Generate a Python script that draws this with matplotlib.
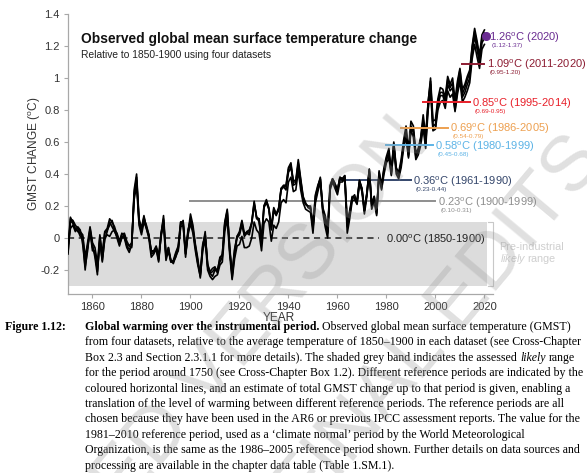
import matplotlib
matplotlib.use("Agg")
import matplotlib.pyplot as plt
import numpy as np

# ---------------------------------
# Data
# ---------------------------------
years = np.arange(1850, 2021)

hadcrut5 = [
    -0.09, 0.10, 0.10, 0.06, 0.04, 0.03, 0.01, -0.14, -0.06, 0.05,
    -0.06, -0.10, -0.20, -0.01, -0.15, 0.00, 0.02, 0.01, 0.04, 0.05,
    0.00, -0.05, 0.01, 0.00, -0.06, -0.09, -0.04, 0.27, 0.36, 0.10,
    0.04, 0.12, 0.08, 0.02, -0.08, -0.08, -0.05, -0.11, 0.03, 0.12,
    -0.12, -0.06, -0.15, -0.14, -0.09, -0.05, 0.10, 0.10, -0.08, 0.05,
    0.11, 0.05, -0.06, -0.16, -0.22, -0.04, 0.02, -0.17, -0.21, -0.19,
    -0.18, -0.22, -0.12, -0.11, 0.10, 0.18, -0.08, -0.22, -0.07, 0.01,
    0.03, 0.10, 0.01, 0.03, 0.02, 0.09, 0.23, 0.12, 0.12, -0.03,
    0.19, 0.22, 0.18, 0.05, 0.17, 0.14, 0.18, 0.31, 0.32, 0.32,
    0.43, 0.46, 0.33, 0.34, 0.46, 0.34, 0.24, 0.21, 0.20, 0.20,
    0.08, 0.27, 0.33, 0.37, 0.19, 0.14, 0.06, 0.33, 0.37, 0.34,
    0.29, 0.38, 0.37, 0.39, 0.10, 0.17, 0.26, 0.25, 0.23, 0.36,
    0.30, 0.17, 0.28, 0.42, 0.21, 0.26, 0.15, 0.40, 0.31, 0.42,
    0.49, 0.52, 0.40, 0.58, 0.42, 0.39, 0.46, 0.58, 0.66, 0.51,
    0.69, 0.66, 0.51, 0.54, 0.61, 0.72, 0.58, 0.83, 0.96, 0.68,
    0.69, 0.83, 0.89, 0.89, 0.84, 0.96, 0.92, 0.94, 0.80, 0.93,
    1.02, 0.88, 0.91, 0.96, 1.00, 1.16, 1.26, 1.18, 1.09, 1.22, 1.25,
]
berkeley = [
    -0.05, 0.06, 0.08, 0.04, 0.07, 0.05, -0.04, -0.18, -0.08, 0.06,
    -0.04, -0.12, -0.23, 0.02, -0.12, 0.03, 0.05, 0.08, 0.11, 0.05,
    0.03, -0.02, 0.03, 0.01, -0.04, -0.05, -0.06, 0.30, 0.40, 0.12,
    0.06, 0.14, 0.06, 0.00, -0.12, -0.10, -0.07, -0.15, 0.02, 0.14,
    -0.10, -0.08, -0.14, -0.16, -0.11, -0.08, 0.08, 0.11, -0.10, 0.03,
    0.15, 0.08, -0.04, -0.13, -0.25, -0.06, 0.04, -0.18, -0.22, -0.24,
    -0.20, -0.21, -0.15, -0.12, 0.08, 0.16, -0.05, -0.25, -0.10, 0.00,
    0.02, 0.08, 0.02, 0.04, 0.05, 0.09, 0.21, 0.13, 0.10, -0.02,
    0.20, 0.23, 0.19, 0.07, 0.19, 0.15, 0.19, 0.30, 0.32, 0.30,
    0.41, 0.44, 0.36, 0.36, 0.49, 0.37, 0.26, 0.22, 0.19, 0.18,
    0.06, 0.24, 0.31, 0.37, 0.18, 0.12, 0.04, 0.32, 0.36, 0.33,
    0.30, 0.37, 0.36, 0.38, 0.07, 0.14, 0.25, 0.27, 0.22, 0.35,
    0.31, 0.18, 0.27, 0.43, 0.19, 0.24, 0.17, 0.42, 0.33, 0.44,
    0.51, 0.56, 0.42, 0.60, 0.44, 0.41, 0.49, 0.61, 0.70, 0.55,
    0.73, 0.70, 0.53, 0.56, 0.63, 0.77, 0.64, 0.84, 1.00, 0.73,
    0.74, 0.87, 0.94, 0.93, 0.88, 1.01, 0.96, 1.00, 0.86, 0.98,
    1.06, 0.93, 0.96, 1.01, 1.05, 1.20, 1.31, 1.23, 1.14, 1.27, 1.30,
]
noaa = [
    -0.10, 0.12, 0.11, 0.08, 0.06, 0.04, 0.02, -0.12, -0.03, 0.07,
    -0.03, -0.06, -0.16, 0.01, -0.10, 0.04, 0.06, 0.12, 0.10, 0.07,
    0.02, -0.02, 0.02, 0.03, -0.02, -0.05, -0.03, 0.24, 0.33, 0.08,
    0.02, 0.10, 0.06, 0.01, -0.08, -0.09, -0.06, -0.13, 0.01, 0.09,
    -0.14, -0.08, -0.15, -0.15, -0.12, -0.07, 0.07, 0.08, -0.10, 0.02,
    0.09, 0.03, -0.08, -0.17, -0.24, -0.08, -0.01, -0.20, -0.24, -0.26,
    -0.24, -0.23, -0.17, -0.15, 0.04, 0.12, -0.10, -0.26, -0.13, -0.05,
    -0.04, 0.01, -0.06, -0.06, -0.05, 0.00, 0.10, 0.05, 0.03, -0.08,
    0.09, 0.12, 0.10, -0.02, 0.08, 0.06, 0.10, 0.22, 0.24, 0.22,
    0.35, 0.38, 0.29, 0.30, 0.42, 0.30, 0.22, 0.18, 0.17, 0.16,
    0.03, 0.22, 0.29, 0.35, 0.16, 0.07, 0.00, 0.30, 0.35, 0.31,
    0.27, 0.35, 0.35, 0.37, 0.03, 0.12, 0.23, 0.24, 0.21, 0.34,
    0.29, 0.15, 0.26, 0.41, 0.18, 0.23, 0.14, 0.39, 0.30, 0.40,
    0.47, 0.50, 0.39, 0.56, 0.40, 0.37, 0.44, 0.56, 0.63, 0.50,
    0.67, 0.63, 0.49, 0.52, 0.58, 0.69, 0.56, 0.80, 0.92, 0.67,
    0.68, 0.80, 0.85, 0.86, 0.81, 0.92, 0.88, 0.90, 0.79, 0.90,
    0.98, 0.85, 0.88, 0.92, 0.97, 1.12, 1.21, 1.13, 1.06, 1.18, 1.21,
]
kadow = [
    -0.06, 0.13, 0.09, 0.05, 0.05, 0.01, 0.00, -0.20, -0.05, 0.04,
    -0.08, -0.08, -0.21, -0.02, -0.14, -0.01, 0.04, 0.10, 0.07, 0.04,
    0.01, -0.04, 0.00, 0.02, -0.05, -0.07, -0.05, 0.27, 0.38, 0.11,
    0.05, 0.13, 0.07, 0.02, -0.10, -0.09, -0.06, -0.14, 0.02, 0.11,
    -0.11, -0.06, -0.14, -0.15, -0.10, -0.06, 0.10, 0.09, -0.12, 0.04,
    0.12, 0.06, -0.05, -0.15, -0.23, -0.05, 0.02, -0.16, -0.22, -0.21,
    -0.19, -0.20, -0.13, -0.10, 0.09, 0.17, -0.07, -0.23, -0.08, 0.01,
    0.04, 0.11, 0.03, 0.03, 0.04, 0.10, 0.22, 0.13, 0.12, -0.01,
    0.20, 0.24, 0.18, 0.06, 0.18, 0.15, 0.17, 0.31, 0.33, 0.33,
    0.44, 0.47, 0.35, 0.35, 0.47, 0.36, 0.25, 0.21, 0.20, 0.19,
    0.07, 0.26, 0.32, 0.38, 0.18, 0.12, 0.03, 0.32, 0.37, 0.34,
    0.30, 0.38, 0.37, 0.39, 0.08, 0.16, 0.25, 0.25, 0.23, 0.36,
    0.31, 0.17, 0.28, 0.43, 0.21, 0.26, 0.16, 0.41, 0.32, 0.43,
    0.50, 0.53, 0.41, 0.59, 0.43, 0.40, 0.47, 0.59, 0.67, 0.52,
    0.70, 0.67, 0.52, 0.55, 0.62, 0.74, 0.60, 0.85, 0.98, 0.70,
    0.71, 0.85, 0.91, 0.91, 0.86, 0.99, 0.94, 0.97, 0.82, 0.96,
    1.05, 0.90, 0.94, 0.99, 1.03, 1.19, 1.29, 1.21, 1.12, 1.25, 1.28,
]

# reference periods (coloured horizontal lines)
ref_periods = ["1850-1900", "1900-1999", "1961-1990", "1980-1999", "1986-2005", "1995-2014", "2011-2020"]
ref_start = [1850, 1900, 1961, 1980, 1986, 1995, 2011]
ref_end = [1977, 2000, 1990, 1999, 2005, 2014, 2020]
ref_values = [0.00, 0.23, 0.36, 0.58, 0.69, 0.85, 1.09]
ref_ranges = ["", "(0.10-0.31)", "(0.23-0.44)", "(0.45-0.68)", "(0.54-0.79)", "(0.69-0.95)", "(0.95-1.20)"]
ref_colors = ["#222222", "#8e8e8e", "#34466b", "#5cb3e6", "#eda050", "#e8202a", "#8c1c32"]

latest_year = 2020
latest_value = 1.26
latest_range = "(1.12-1.37)"
latest_color = "#6a2c91"

likely_low, likely_high = -0.3, 0.1

caption = [
    [("Figure 1.12:", "bold", "normal"), ("Global warming over the instrumental period.", "bold", "normal"),
     ("Observed global mean surface temperature (GMST)", "normal", "normal")],
    [("from four datasets, relative to the average temperature of 1850\u20131900 in each dataset (see Cross-Chapter", "normal", "normal")],
    [("Box 2.3 and Section 2.3.1.1 for more details). The shaded grey band indicates the assessed", "normal", "normal"),
     ("likely", "normal", "italic"), ("range", "normal", "normal")],
    [("for the period around 1750 (see Cross-Chapter Box 1.2). Different reference periods are indicated by the", "normal", "normal")],
    [("coloured horizontal lines, and an estimate of total GMST change up to that period is given, enabling a", "normal", "normal")],
    [("translation of the level of warming between different reference periods. The reference periods are all", "normal", "normal")],
    [("chosen because they have been used in the AR6 or previous IPCC assessment reports. The value for the", "normal", "normal")],
    [("1981\u20132010 reference period, used as a \u2018climate normal\u2019 period by the World Meteorological", "normal", "normal")],
    [("Organization, is the same as the 1986\u20132005 reference period shown. Further details on data sources and", "normal", "normal")],
    [("processing are available in the chapter data table (Table 1.SM.1).", "normal", "normal")],
]

# ---------------------------------
# Figure
# ---------------------------------
plt.rcParams["font.family"] = "Liberation Sans"
plt.rcParams["mathtext.fontset"] = "custom"
plt.rcParams["mathtext.rm"] = "Liberation Sans"
plt.rcParams["mathtext.it"] = "Liberation Sans:italic"

W, H = 587, 473
fig = plt.figure(figsize=(W / 100, H / 100), dpi=100)
ax = fig.add_axes([68 / W, 1 - 294 / H, 425 / W, 280 / H])

ax.axhspan(likely_low, likely_high, xmin=0, xmax=(2021 - 1850) / (2023.5 - 1850), color="#dcdcdc", lw=0, zorder=0)

for series in [noaa, kadow, hadcrut5, berkeley]:
    ax.plot(years, series, color="black", lw=1.2, zorder=3)

deg = r"$^{\rm o}$C"
LAB_FS = 8.0
for i, (per, x0, x1, v, rng, c) in enumerate(zip(ref_periods, ref_start, ref_end, ref_values, ref_ranges, ref_colors)):
    if i == 0:
        ax.plot([x0, x1], [v, v], color=c, lw=1.1, ls=(0, (4, 3)), zorder=2)
        ax.text(x1 + 2.8, v - 0.012, f"{v:.2f}" + deg + f" ({per})", color=c, fontsize=LAB_FS,
                va="center", ha="left", zorder=4)
        continue
    ax.plot([x0, x1], [v, v], color=c, lw=1.4, zorder=4 if i > 2 else 2)
    ax.text(x1 + 1.0, v - 0.01, f"{v:.2f}" + deg + f" ({per})", color=c, fontsize=LAB_FS,
            va="center", ha="left", zorder=4, clip_on=False)
    ax.text(x1 + 2.0, v - 0.058, rng, color=c, fontsize=4.6, va="center", ha="left", zorder=4, clip_on=False)

ax.plot([latest_year + 0.5], [latest_value], "o", color=latest_color, ms=5.5, zorder=5, clip_on=False)
ax.text(latest_year + 2.0, latest_value - 0.01, f"{latest_value:.2f}" + deg + f" ({latest_year})",
        color=latest_color, fontsize=LAB_FS, va="center", ha="left", clip_on=False)
ax.text(latest_year + 3.0, latest_value - 0.058, latest_range, color=latest_color, fontsize=4.6,
        va="center", ha="left", clip_on=False)

# pre-industrial bracket
ax.plot([2021.3, 2023.3, 2023.3, 2021.3], [likely_high, likely_high, likely_low, likely_low],
        color="#c8c8c8", lw=0.8, clip_on=False)
ax.text(2026.2, -0.055, "Pre-industrial", color="#cfcfcf", fontsize=7.8, va="center", ha="left", clip_on=False)
ax.text(2026.2, -0.13, r"$\it{likely}$ range", color="#cfcfcf", fontsize=7.8, va="center", ha="left", clip_on=False)

ax.set_xlim(1850, 2023.5)
ax.set_ylim(-0.35, 1.4)
ax.set_xticks([1860, 1880, 1900, 1920, 1940, 1960, 1980, 2000, 2020])
ax.set_yticks([-0.2, 0, 0.2, 0.4, 0.6, 0.8, 1, 1.2, 1.4])
ax.set_yticklabels(["-0.2", "0", "0.2", "0.4", "0.6", "0.8", "1", "1.2", "1.4"])
ax.patch.set_visible(False)
for s in ["top", "right"]:
    ax.spines[s].set_visible(False)
for s in ["left", "bottom"]:
    ax.spines[s].set_color("#a8a8a8")
    ax.spines[s].set_linewidth(0.9)
ax.tick_params(colors="#a8a8a8", labelcolor="#333333", labelsize=8.0, length=3, width=0.8, pad=3)

fig.text(35 / W, 1 - 154 / H, "GMST CHANGE (" + deg + ")", rotation=90, ha="center", va="center",
         fontsize=8.6, color="#333333")
fig.text(279 / W, 1 - 318 / H, "YEAR", ha="center", va="center", fontsize=8.6, color="#333333")

fig.text(81 / W, 1 - 39 / H, "Observed global mean surface temperature change", fontsize=9.9,
         weight="bold", ha="left", va="center", color="#111111")
fig.text(81 / W, 1 - 55 / H, "Relative to 1850-1900 using four datasets", fontsize=7.4,
         ha="left", va="center", color="#222222")

# ---------------------------------
# Caption (mixed bold / italic runs)
# ---------------------------------
renderer = fig.canvas.get_renderer()
CAP_FS = 8.58
CAP_FAM = "Liberation Serif"
t1 = fig.text(0, 0, "x x", fontsize=CAP_FS, family=CAP_FAM)
t2 = fig.text(0, 0, "xx", fontsize=CAP_FS, family=CAP_FAM)
space_w = t1.get_window_extent(renderer).width - t2.get_window_extent(renderer).width
t1.remove()
t2.remove()

line_y0 = 327
line_step = 15.4
for k, parts in enumerate(caption):
    y = 1 - (line_y0 + k * line_step) / H
    x = 5 if k == 0 else 85
    for j, (txt, weight, style) in enumerate(parts):
        t = fig.text(x / W, y, txt, fontsize=CAP_FS, family=CAP_FAM, weight=weight, style=style,
                     ha="left", va="center", color="black")
        bb = t.get_window_extent(renderer)
        x = bb.x1 + space_w
        if k == 0 and j == 0:
            x = 85

# watermark
wm = dict(fontsize=56, family="Liberation Sans", color="#9a9a9a", alpha=0.3, rotation=50,
          rotation_mode="anchor", ha="right", va="baseline", zorder=10)
fig.text(432 / W, 1 - 142 / H, "ACCEPTED VERSION", **wm)
fig.text(606 / W, 1 - 160 / H, "SUBJECT TO FINAL EDITS", **wm)

fig.savefig("out.png", dpi=100)
